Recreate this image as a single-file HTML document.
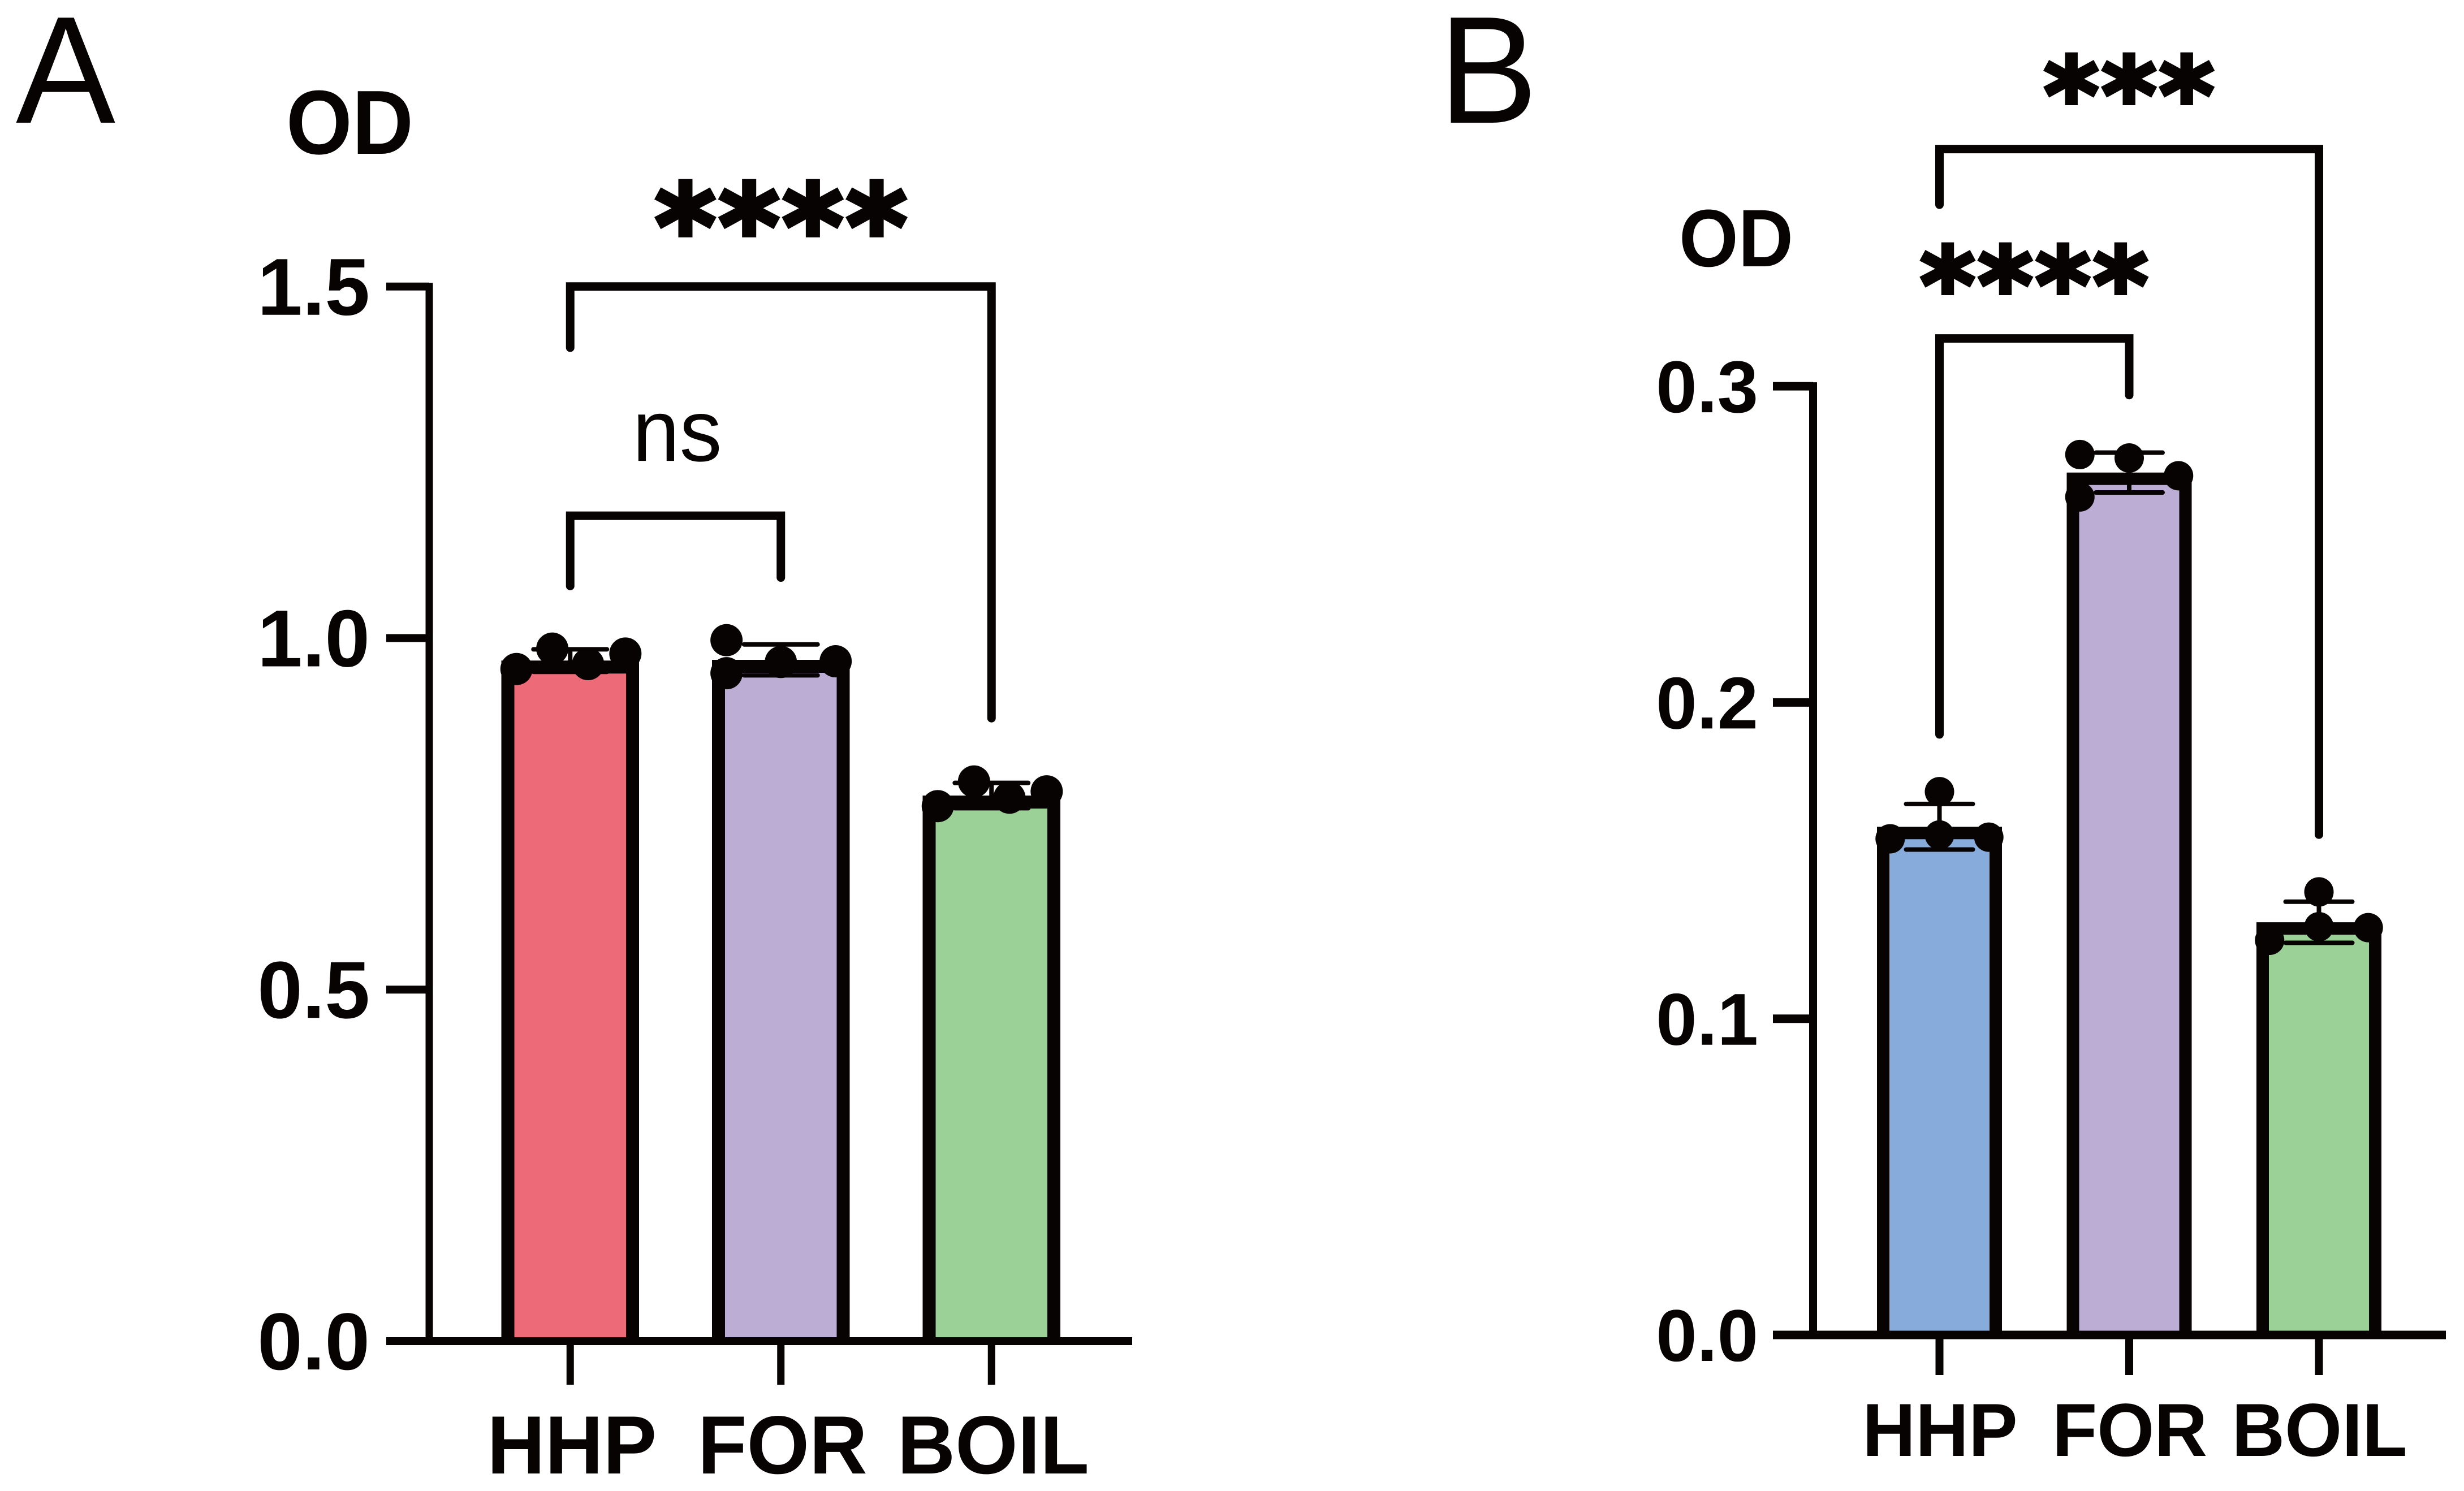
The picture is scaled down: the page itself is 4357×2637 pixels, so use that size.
<!DOCTYPE html>
<html lang="en">
<head>
<meta charset="utf-8">
<title>OD bar charts</title>
<style>
html,body{margin:0;padding:0;background:#fff;}
svg{display:block;}
text{font-family:"Liberation Sans",Arial,sans-serif;fill:#070303;}
.b{font-weight:700;}
.star{font-family:"DejaVu Sans",sans-serif;font-weight:700;stroke:#070303;stroke-linejoin:miter;}
</style>
</head>
<body>
<svg id="figure" xmlns="http://www.w3.org/2000/svg" width="4357" height="2637" viewBox="0 0 4357 2637">
  <rect x="0" y="0" width="4357" height="2637" fill="#ffffff"/>
  <text x="28" y="217" font-size="270" textLength="176" lengthAdjust="spacingAndGlyphs">A</text>
  <text x="2544" y="217" font-size="270" textLength="175" lengthAdjust="spacingAndGlyphs">B</text>
  <text class="b" x="506" y="272" font-size="161" textLength="225" lengthAdjust="spacingAndGlyphs">OD</text>
  <text class="b" x="2969" y="471" font-size="144" textLength="202" lengthAdjust="spacingAndGlyphs">OD</text>
</svg>
<script>
// ---- Panel A data ----
const aCategories = ['HHP', 'FOR', 'BOIL'];
const aBarValues = [0.968, 0.969, 0.776];
const aErrors = [0.016, 0.022, 0.018];
const aPoints = [
  [0.956, 0.985, 0.963, 0.978],
  [0.950, 0.997, 0.966, 0.967],
  [0.761, 0.796, 0.773, 0.782]
];
const aJitter = [
  [-0.255, -0.085, 0.085, 0.262],
  [-0.258, -0.258, 0, 0.26],
  [-0.255, -0.083, 0.085, 0.262]
];
const aTicks = [0, 0.5, 1.0, 1.5];
const aTickLabels = ['0.0', '0.5', '1.0', '1.5'];
const aColors = ['#ED6A78', '#BBADD4', '#9BD097'];
const aCompFrom = [0, 0];
const aCompTo = [2, 1];
const aCompTop = [1.5, 1.174];
const aCompFromEnd = [1.413, 1.074];
const aCompToEnd = [0.886, 1.086];
const aCompLabels = ['****', 'ns'];

// ---- Panel B data ----
const bCategories = ['HHP', 'FOR', 'BOIL'];
const bBarValues = [0.1607, 0.2727, 0.1305];
const bErrors = [0.0072, 0.0063, 0.0065];
const bPoints = [
  [0.1718, 0.1581, 0.1569, 0.1574],
  [0.2784, 0.2773, 0.2717, 0.2650],
  [0.1401, 0.1291, 0.1288, 0.1248]
];
const bJitter = [
  [0, 0, -0.26, 0.26],
  [-0.26, 0, 0.26, -0.26],
  [0, 0, 0.26, -0.26]
];
const bTicks = [0, 0.1, 0.2, 0.3];
const bTickLabels = ['0.0', '0.1', '0.2', '0.3'];
const bColors = ['#87ABDB', '#BBADD4', '#9BD097'];
const bCompFrom = [0, 0];
const bCompTo = [2, 1];
const bCompTop = [0.375, 0.3151];
const bCompFromEnd = [0.3574, 0.1899];
const bCompToEnd = [0.1582, 0.2972];
const bCompLabels = ['***', '****'];

const INK = '#070303';
const svg = document.getElementById('figure');
const SVG_NS = 'http://www.w3.org/2000/svg';

function make(tag, attrs, parent) {
  const node = document.createElementNS(SVG_NS, tag);
  for (const k in attrs) node.setAttribute(k, attrs[k]);
  parent.appendChild(node);
  return node;
}

function drawPanel(d, L) {
  const y = v => L.y0 - v * L.yScale;
  const x = i => L.x0 + i * L.xStep;
  const g = make('g', {}, svg);
  
  

  // bars: fill plus an open-bottomed outline, so the fill runs down to the x axis
  d.values.forEach((v, i) => {
    const inset = L.barStroke / 2;
    const left = x(i) - L.barHalf + inset;
    const right = x(i) + L.barHalf - inset;
    const top = y(v) + inset;
    const bar = make('rect', {
      x: left, y: top, width: right - left, height: y(0) - top,
      fill: d.colors[i]
    }, g);
    
    
    const outline = make('path', {
      d: 'M' + left + ' ' + y(0) + 'V' + top + 'H' + right + 'V' + y(0),
      fill: 'none', stroke: INK, 'stroke-width': L.barStroke, 'stroke-linejoin': 'miter'
    }, g);
    
    
  });

  // error bars
  d.values.forEach((v, i) => {
    const top = y(v + d.errors[i]);
    const bottom = y(v - d.errors[i]);
    const err = make('path', {
      d: 'M' + (x(i) - L.capHalf) + ' ' + top + 'H' + (x(i) + L.capHalf) +
         'M' + x(i) + ' ' + top + 'V' + bottom +
         'M' + (x(i) - L.capHalf) + ' ' + bottom + 'H' + (x(i) + L.capHalf),
      fill: 'none', stroke: INK, 'stroke-width': 8, 'stroke-linecap': 'round'
    }, g);
    
    
  });

  // data points
  d.points.forEach((series, i) => {
    series.forEach((v, j) => {
      const dot = make('circle', {
        cx: x(i) + d.jitter[i][j] * L.xStep,
        cy: y(v),
        r: L.dotR,
        fill: INK
      }, g);
      
      
    });
  });

  // y axis
  const yAxis = make('line', {
    x1: L.axisX, x2: L.axisX, y1: y(d.ticks[d.ticks.length - 1]) - L.axisW / 2, y2: y(0) + L.axisW / 2,
    stroke: INK, 'stroke-width': L.axisW
  }, g);
  
  

  d.ticks.forEach((t, i) => {
    const tick = make('line', {
      x1: L.tickLeft, x2: L.axisX, y1: y(t), y2: y(t),
      stroke: INK, 'stroke-width': L.axisW + 1
    }, g);
    
    
    const label = make('text', {
      x: L.tickTextX, y: y(t) + L.tickTextDy, 'font-size': L.tickFont,
      'text-anchor': 'end', 'class': 'b'
    }, g);
    label.textContent = d.tickLabels[i];
    
    
  });

  // x axis
  const xAxis = make('line', {
    x1: L.tickLeft, x2: L.axisEnd, y1: y(0), y2: y(0),
    stroke: INK, 'stroke-width': L.axisW + 1
  }, g);
  
  

  d.categories.forEach((c, i) => {
    const tick = make('line', {
      x1: x(i), x2: x(i), y1: y(0), y2: L.xTickEnd,
      stroke: INK, 'stroke-width': L.axisW
    }, g);
    
    
    const label = make('text', {
      x: x(i) + L.catDx, y: L.catBaseline, 'font-size': L.catFont,
      'text-anchor': 'middle', 'class': 'b'
    }, g);
    label.textContent = c;
    label.setAttribute('textLength', label.getComputedTextLength() * L.catSqueeze);
    label.setAttribute('lengthAdjust', 'spacingAndGlyphs');
    
    
  });

  // significance brackets
  d.compFrom.forEach((from, i) => {
    const to = d.compTo[i];
    const br = make('path', {
      d: 'M' + x(from) + ' ' + y(d.compFromEnd[i]) + 'V' + y(d.compTop[i]) + 'H' + x(to) + 'V' + y(d.compToEnd[i]),
      fill: 'none', stroke: INK, 'stroke-width': 15,
      'stroke-linecap': 'round', 'stroke-linejoin': 'miter'
    }, g);
    
    
    const s = L.compText[i];
    const label = make('text', {
      x: (x(from) + x(to)) / 2 + s.dx, y: y(d.compTop[i]) - s.up,
      'font-size': s.font, 'text-anchor': 'middle'
    }, g);
    if (s.star) {
      label.setAttribute('class', 'star');
      label.setAttribute('stroke-width', s.thick);
      label.setAttribute('letter-spacing', s.gap);
    }
    label.textContent = d.compLabels[i];
    if (s.length) {
      label.setAttribute('textLength', s.length);
      label.setAttribute('lengthAdjust', 'spacingAndGlyphs');
    }
    
    
  });
}

drawPanel({
  categories: aCategories, values: aBarValues, errors: aErrors, points: aPoints, jitter: aJitter,
  ticks: aTicks, tickLabels: aTickLabels, colors: aColors,
  compFrom: aCompFrom, compTo: aCompTo, compTop: aCompTop,
  compFromEnd: aCompFromEnd, compToEnd: aCompToEnd, compLabels: aCompLabels
}, {
  id: 'a', x0: 1008.25, xStep: 372.5, y0: 2372, yScale: 1243.5,
  barHalf: 121.75, barStroke: 23, capHalf: 65, dotR: 28.5,
  axisX: 759, axisW: 13, tickLeft: 683, axisEnd: 2002, xTickEnd: 2449,
  tickTextX: 654, tickTextDy: 50, tickFont: 143,
  catDx: 3, catBaseline: 2606, catFont: 146, catSqueeze: 0.973,
  compText: [
    { font: 205, dx: 3, up: 34, star: true, thick: 8, gap: 5.5 },
    { font: 155, dx: 3, up: 97, star: false, length: 158 }
  ]
});

drawPanel({
  categories: bCategories, values: bBarValues, errors: bErrors, points: bPoints, jitter: bJitter,
  ticks: bTicks, tickLabels: bTickLabels, colors: bColors,
  compFrom: bCompFrom, compTo: bCompTo, compTop: bCompTop,
  compFromEnd: bCompFromEnd, compToEnd: bCompToEnd, compLabels: bCompLabels
}, {
  id: 'b', x0: 3429.5, xStep: 335.5, y0: 2361, yScale: 5593,
  barHalf: 110.5, barStroke: 22, capHalf: 59, dotR: 26,
  axisX: 3206, axisW: 14, tickLeft: 3135, axisEnd: 4325, xTickEnd: 2432,
  tickTextX: 3109, tickTextDy: 46, tickFont: 130,
  catDx: 1, catBaseline: 2575, catFont: 133, catSqueeze: 0.977,
  compText: [
    { font: 186, dx: 2, up: 29.5, star: true, thick: 7, gap: 4.7 },
    { font: 186, dx: 2, up: 28.5, star: true, thick: 7, gap: 4.7 }
  ]
});
</script>
</body>
</html>
